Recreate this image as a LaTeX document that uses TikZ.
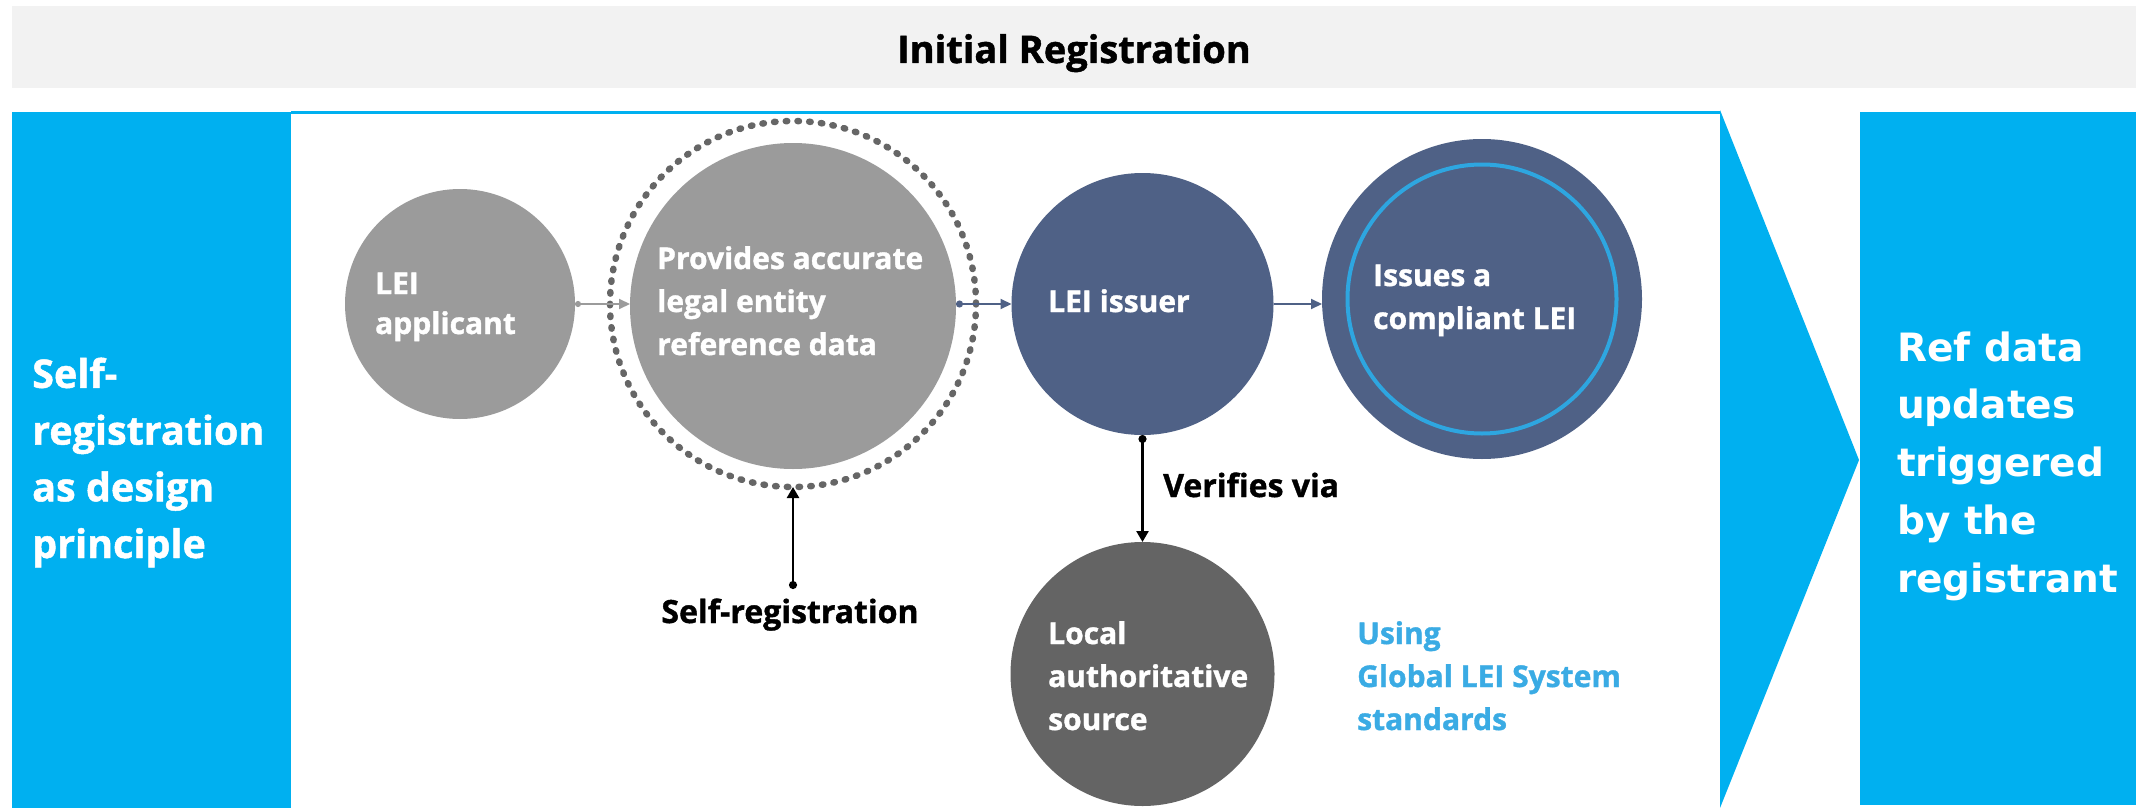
\documentclass[tikz,border=0pt]{standalone}
\usepackage{fontspec}
\setmainfont{Open Sans}[BoldFeatures={FakeBold=1.2}]
\newfontfamily\dejavu{DejaVu Sans}
\usetikzlibrary{arrows.meta}
\definecolor{bandgrey}{HTML}{F2F2F2}
\definecolor{lblue}{HTML}{00B0F0}
\definecolor{cgrey}{HTML}{9B9B9B}
\definecolor{cdark}{HTML}{646464}
\definecolor{cnavy}{HTML}{4F6186}
\definecolor{ringblue}{HTML}{2EA6E0}
\definecolor{txtblue}{HTML}{3AABE4}
\definecolor{dotgrey}{HTML}{666666}
\begin{document}
\begin{tikzpicture}[x=1pt,y=-1pt,
  bubble/.style={circle, inner sep=0pt, outer sep=0pt, minimum size=#1},
  ctext/.style={anchor=base west, inner sep=0pt, align=left, text=white,
    font=\bfseries\fontsize{30}{43}\selectfont},
  blacklabel/.style={inner sep=0pt, text=black, font=\bfseries\fontsize{32}{40}\selectfont},
  sidetext/.style={anchor=base west, inner sep=0pt, align=left, text=white},
  greyarrow/.style={draw=cgrey, line width=2pt, {Circle[length=6pt]}-{Triangle[length=11pt,width=10pt]}},
  navyarrow/.style={draw=cnavy, line width=2pt, {Circle[length=7pt]}-{Triangle[length=11pt,width=10pt]}},
  navyplain/.style={draw=cnavy, line width=2pt, -{Triangle[length=11pt,width=10pt]}},
  blackarrow/.style={draw=black, line width=2.5pt, {Circle[length=8pt]}-{Triangle[length=11pt,width=12pt]}}
]
\useasboundingbox (0,0) rectangle (2136,808);
\fill[white] (0,0) rectangle (2136,808);

% title band
\fill[bandgrey] (12,6) rectangle (2136,88);
\node[anchor=base, inner sep=0pt, font=\bfseries\fontsize{38}{40}\selectfont] (title) at (1074,63) {Initial Registration};

% side panels
\fill[lblue] (12,112) rectangle (291,808);
\node[sidetext, font=\bfseries\fontsize{39.5}{56.7}\selectfont] (lefttxt) at (32,558) {Self-\\registration\\as design\\principle};
\draw[lblue, line width=3pt] (291,112) -- (1720,112);
\fill[lblue] (1720,110) -- (1859,460) -- (1720,808) -- cycle;
\fill[lblue] (1860,112) rectangle (2136,805);
\node[sidetext, font=\dejavu\bfseries\fontsize{39}{57.7}\selectfont] (righttxt) at (1897,592) {Ref data\\updates\\triggered\\by the\\registrant};

% circles
\node[bubble=230, fill=cgrey] (app) at (460,304) {};
\node[circle, inner sep=0pt, outer sep=0pt, minimum size=366, draw=dotgrey, line width=6.5pt,
  dash pattern=on 1.5pt off 10.23pt, line cap=round] (ring) at (793,304) {};
\node[bubble=326, fill=cgrey] (prov) at (793,306) {};
\node[bubble=262, fill=cnavy] (iss) at (1142.5,304) {};
\node[bubble=320, fill=cnavy] (comp) at (1482,299) {};
\node[bubble=269, draw=ringblue, line width=4pt] (compring) at (1482,299) {};
\node[bubble=264, fill=cdark] (loc) at (1142.5,674) {};

% circle texts (anchored at the baseline of the last line)
\node[ctext, font=\bfseries\fontsize{30}{40}\selectfont] (appt) at (375,334) {LEI\\applicant};
\node[ctext] (provt) at (657,355) {Provides accurate\\legal entity\\reference data};
\node[ctext] (isst) at (1048,312) {LEI issuer};
\node[ctext] (compt) at (1373,329) {Issues a\\compliant LEI};
\node[ctext] (loct) at (1048,730) {Local\\authoritative\\source};

% labels
\node[blacklabel, anchor=base west] (verif) at (1163,497) {Verifies via};
\node[blacklabel, anchor=base] (selft) at (790,623) {Self-registration};
\node[ctext, text=txtblue] (gleis) at (1357,730) {Using\\Global LEI System\\standards};

% connectors
\draw[greyarrow] (app.east) -- (prov.west |- app.east);
\draw[navyarrow] (prov.east |- iss.west) -- (iss.west);
\draw[navyplain] (iss.east) -- (iss.east -| comp.west);
\draw[blackarrow] (iss.south) -- (loc.north);
\coordinate (srdot) at (793,589);
\draw[blackarrow] (srdot) -- (ring.south);
\end{tikzpicture}
\end{document}
